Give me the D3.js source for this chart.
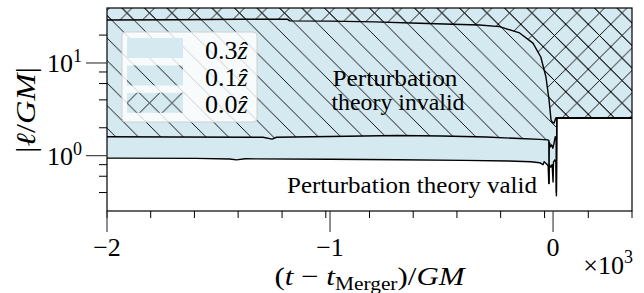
<!DOCTYPE html>
<html>
<head>
<meta charset="utf-8">
<script src="https://cdn.jsdelivr.net/npm/d3@7"></script>
<style>
  body { margin: 0; background: #fff; }
  svg { display: block; }
  text { font-family: "Liberation Serif", "DejaVu Serif", serif; fill: #000; }
</style>
</head>
<body>
<div id="chart"></div>
<script>
// ---- data (t in GM, |l| in GM) ----
// 0.3 z-hat threshold (bottom edge of the plain blue band)
const t03 = [-2000, -1600, -1450, -1420, -1380, -1000, -700, -400, -200, -100, -60, -45, -40, -30, -22, -19, -17, -10, -4, 0, 2, 8, 13, 15, 17, 354];
const l03 = [0.94, 0.935, 0.92, 0.90, 0.925, 0.915, 0.905, 0.89, 0.875, 0.86, 0.84, 0.80, 0.86, 0.82, 0.78, 0.50, 0.80, 0.75, 0.80, 0.52, 0.85, 0.90, 0.85, 0.37, 2.55, 2.55];
// 0.1 z-hat threshold (bottom edge of the hatched band)
const t01 = [-2000, -1700, -1300, -1260, -1240, -1000, -700, -500, -300, -150, -60, -25, -19, -18, -17, -12, -6, -1, 4, 10, 14, 15, 17, 354];
const l01 = [1.60, 1.59, 1.58, 1.51, 1.58, 1.61, 1.65, 1.63, 1.59, 1.53, 1.50, 1.48, 1.46, 0.50, 1.40, 1.25, 1.30, 1.20, 1.35, 1.60, 1.50, 0.40, 2.55, 2.55];
// 0.0 z-hat threshold (bottom edge of the cross-hatched band)
const t00 = [-2000, -1700, -1400, -1190, -1180, -1000, -800, -600, -450, -330, -240, -150, -90, -55, -32, -18, -9, -3, 5, 12, 354];
const l00 = [29.1, 29.3, 29.6, 29.6, 28.5, 28.3, 27.8, 26.8, 26.2, 25.7, 24.7, 21.1, 16.4, 11.6, 7.1, 4.0, 2.42, 2.3, 2.25, 2.55, 2.55];

const xMajorTicks = [-2000, -1000, 0];
const xMajorLabels = ["\u22122", "\u22121", "0"];
const xMinorTicks = [-2000, -1804, -1608, -1412, -1215, -1019, -823, -627, -431, -235, -38, 158, 354];
const yMajorTicks = [1, 10];
const yMajorExp = ["0", "1"];
const yMinorTicks = [0.4, 0.6, 0.8, 2, 4, 6, 8, 20];
const legendLabels = ["0.3", "0.1", "0.0"];

// ---- layout ----
const W = 644, H = 293;
const margin = { top: 8, right: 12, bottom: 82, left: 107 };
const width = W - margin.left - margin.right;
const height = H - margin.top - margin.bottom;
const blue = "#d5e9f0";
const hatchStep = 22.5;

const svg = d3.select("#chart").append("svg")
  .attr("width", W).attr("height", H);

const x = d3.scaleLinear().domain([-2000, 354]).range([margin.left, margin.left + width]);
const y = d3.scaleLog().domain([0.253, 39.2]).range([margin.top + height, margin.top]);

// patterns
const defs = svg.append("defs");
function makeHatch(id, cross) {
  const s = hatchStep;
  const p = defs.append("pattern").attr("id", id)
    .attr("patternUnits", "userSpaceOnUse")
    .attr("x", 3.25).attr("y", 1.75)
    .attr("width", s).attr("height", s);
  let d = `M-2,-2L${s + 2},${s + 2}M-2,${s - 2}L2,${s + 2}M${s - 2},-2L${s + 2},2`;
  if (cross) d += `M-2,${s + 2}L${s + 2},-2M-2,2L2,-2M${s - 2},${s + 2}L${s + 2},${s - 2}`;
  p.append("path").attr("d", d).attr("stroke", "#000").attr("stroke-width", 0.9).attr("fill", "none");
}
makeHatch("hatch", false);
makeHatch("cross", true);

defs.append("clipPath").attr("id", "plotclip").append("rect")
  .attr("x", margin.left).attr("y", margin.top).attr("width", width).attr("height", height);

const plot = svg.append("g").attr("clip-path", "url(#plotclip)");

const area = d3.area().x(d => x(d[0])).y0(margin.top - 5).y1(d => y(d[1]));
const line = d3.line().x(d => x(d[0])).y(d => y(d[1]));

const s03 = d3.zip(t03, l03), s01 = d3.zip(t01, l01), s00 = d3.zip(t00, l00);

plot.append("path").datum(s03).attr("d", area).attr("fill", blue);
plot.append("path").datum(s01).attr("d", area).attr("fill", "url(#hatch)");
plot.append("path").datum(s00).attr("d", area).attr("fill", "url(#cross)");

[s03, s01, s00].forEach(s => {
  plot.append("path").datum(s).attr("d", line)
    .attr("fill", "none").attr("stroke", "#000").attr("stroke-width", 1.4)
    .attr("stroke-linejoin", "round");
});

// annotations
svg.append("text").attr("x", 395).attr("y", 86).attr("text-anchor", "middle")
  .attr("font-size", 23).attr("textLength", 125).attr("lengthAdjust", "spacingAndGlyphs")
  .text("Perturbation");
svg.append("text").attr("x", 398).attr("y", 110).attr("text-anchor", "middle")
  .attr("font-size", 23).attr("textLength", 133).attr("lengthAdjust", "spacingAndGlyphs")
  .text("theory invalid");
svg.append("text").attr("x", 412).attr("y", 193).attr("text-anchor", "middle")
  .attr("font-size", 23).attr("textLength", 250).attr("lengthAdjust", "spacingAndGlyphs")
  .text("Perturbation theory valid");

// frame
svg.append("rect").attr("x", margin.left).attr("y", margin.top)
  .attr("width", width).attr("height", height)
  .attr("fill", "none").attr("stroke", "#000").attr("stroke-width", 1.2);

// x axis ticks
const xAxisY = margin.top + height;
svg.append("g").selectAll("line").data(xMinorTicks).join("line")
  .attr("x1", d => x(d)).attr("x2", d => x(d))
  .attr("y1", xAxisY).attr("y2", xAxisY + 7)
  .attr("stroke", "#000").attr("stroke-width", 1);
svg.append("g").selectAll("line").data(xMajorTicks).join("line")
  .attr("x1", d => x(d)).attr("x2", d => x(d))
  .attr("y1", xAxisY).attr("y2", xAxisY + 21)
  .attr("stroke", "#333").attr("stroke-width", 1.1);
svg.append("g").selectAll("text").data(xMajorTicks).join("text")
  .attr("x", d => x(d)).attr("y", 256).attr("text-anchor", "middle")
  .attr("font-size", 26).text((d, i) => xMajorLabels[i]);

// y axis ticks
svg.append("g").selectAll("line").data(yMinorTicks).join("line")
  .attr("x1", margin.left - 8).attr("x2", margin.left)
  .attr("y1", d => y(d)).attr("y2", d => y(d))
  .attr("stroke", "#000").attr("stroke-width", 1);
svg.append("g").selectAll("line").data(yMajorTicks).join("line")
  .attr("x1", margin.left - 21).attr("x2", margin.left)
  .attr("y1", d => y(d)).attr("y2", d => y(d))
  .attr("stroke", "#333").attr("stroke-width", 1.1);
const ylab = svg.append("g").selectAll("text").data(yMajorTicks).join("text")
  .attr("x", 82).attr("y", d => y(d) + 9.5).attr("text-anchor", "end")
  .attr("font-size", 26);
ylab.append("tspan").text("10");
ylab.append("tspan").attr("dy", -10).attr("font-size", 18).text((d, i) => yMajorExp[i]);

// axis labels
const xl = svg.append("text").attr("x", margin.left + width / 2).attr("y", 285)
  .attr("text-anchor", "middle").attr("font-size", 26)
  .attr("textLength", 190).attr("lengthAdjust", "spacingAndGlyphs");
xl.append("tspan").text("(");
xl.append("tspan").attr("font-style", "italic").text("t");
xl.append("tspan").text(" \u2212 ");
xl.append("tspan").attr("font-style", "italic").text("t");
xl.append("tspan").attr("font-size", 18).attr("dy", 5).text("Merger");
xl.append("tspan").attr("dy", -5).text(")/");
xl.append("tspan").attr("font-style", "italic").text("GM");

const yl = svg.append("text").attr("transform", "translate(35,110) rotate(-90)")
  .attr("text-anchor", "middle").attr("font-size", 27)
  .attr("textLength", 86).attr("lengthAdjust", "spacingAndGlyphs");
yl.append("tspan").text("|");
yl.append("tspan").attr("font-style", "italic").text("\u2113");
yl.append("tspan").text("/");
yl.append("tspan").attr("font-style", "italic").text("GM");
yl.append("tspan").text("|");

const off = svg.append("text").attr("x", 633).attr("y", 274).attr("text-anchor", "end").attr("font-size", 26);
off.append("tspan").text("\u00d710");
off.append("tspan").attr("dy", -11).attr("font-size", 18).text("3");

// legend
const leg = svg.append("g");
leg.append("rect").attr("x", 122).attr("y", 32).attr("width", 135).attr("height", 90)
  .attr("rx", 4).attr("fill", "#fff").attr("fill-opacity", 0.8)
  .attr("stroke", "#d0d0d0").attr("stroke-width", 1);
const legFills = ["none", "url(#hatch)", "url(#cross)"];
legendLabels.forEach((lab, i) => {
  const top = 38 + i * 27.4;
  leg.append("rect").attr("x", 127).attr("y", top).attr("width", 56).attr("height", 20).attr("fill", blue);
  if (i > 0) leg.append("rect").attr("x", 127).attr("y", top).attr("width", 56).attr("height", 20).attr("fill", legFills[i]);
  const t = leg.append("text").attr("x", 205).attr("y", top + 20.5).attr("font-size", 26);
  t.append("tspan").text(lab);
  t.append("tspan").attr("font-style", "italic").text("\u1e91");
});
</script>
</body>
</html>
